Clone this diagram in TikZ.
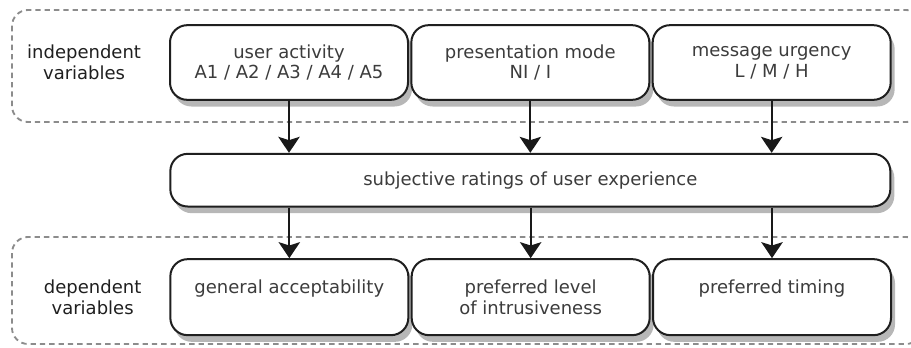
\documentclass[tikz,border=0pt]{standalone}
\usepackage{fontspec}
\setmainfont{DejaVu Sans}
\usepackage{tikz}
\usetikzlibrary{arrows.meta,positioning,shadows}
\definecolor{boxtext}{HTML}{3C3C3C}
\definecolor{regiongray}{HTML}{8C8C8C}
\tikzset{
  box/.style={draw=black!88, line width=1.5pt, rounded corners=13pt, align=center, fill=white,
    text=boxtext, font=\fontsize{13.5}{15.5}\selectfont, inner sep=2pt,
    drop shadow={shadow xshift=3pt, shadow yshift=-5pt, fill=black!70, opacity=.4}},
  varbox/.style={box, minimum width=178.5pt, minimum height=56pt},
  sumbox/.style={box, minimum width=540pt, minimum height=39.5pt},
  sidelabel/.style={align=center, inner sep=0pt, outer sep=0pt, text=black!88,
    font=\fontsize{13.5}{15.5}\selectfont},
  line/.style={-{Stealth[length=12pt, width=16pt, inset=2.5pt]}, line width=1.5pt, black!90},
  region/.style={draw=regiongray, line width=1.4pt, dash pattern=on 4pt off 3pt, rounded corners=12pt}
}
\begin{document}
\begin{tikzpicture}[x=0.75pt, y=-0.75pt]
  \useasboundingbox (0,0) rectangle (911,347);
  % dashed groups
  \draw[region] (12,10) rectangle (922,122);
  \draw[region] (12,237) rectangle (922,344);

  % independent variables
  \node[varbox] (ua) at (289,62.5) {user activity\\A1 / A2 / A3 / A4 / A5};
  \node[varbox, right=1pt of ua] (pm) {presentation mode\\NI / I};
  \node[varbox, right=1pt of pm] (mu) {message urgency\\L / M / H};
  \node[sidelabel, left=21pt of ua] (indep) {independent\\variables};

  % ratings
  \node[sumbox, below=39pt of pm] (sr) {subjective ratings of user experience};
  \draw[line] (ua.south) -- (ua.south |- sr.north);
  \draw[line] (pm.south) -- (pm.south |- sr.north);
  \draw[line] (mu.south) -- (mu.south |- sr.north);

  % dependent variables
  \node[varbox, below=38pt of sr.south west, anchor=north west, minimum height=57pt] (ga) {general acceptability\\\mbox{}};
  \node[varbox, right=1pt of ga, minimum height=57pt] (pl) {preferred level\\of intrusiveness};
  \node[varbox, right=1pt of pl, minimum height=57pt] (pt) {preferred timing\\\mbox{}};
  \node[sidelabel, left=21pt of ga] (dep) {dependent\\variables};
  \draw[line] (sr.south -| ga) -- (ga.north);
  \draw[line] (sr.south -| pl) -- (pl.north);
  \draw[line] (sr.south -| pt) -- (pt.north);
\end{tikzpicture}
\end{document}
